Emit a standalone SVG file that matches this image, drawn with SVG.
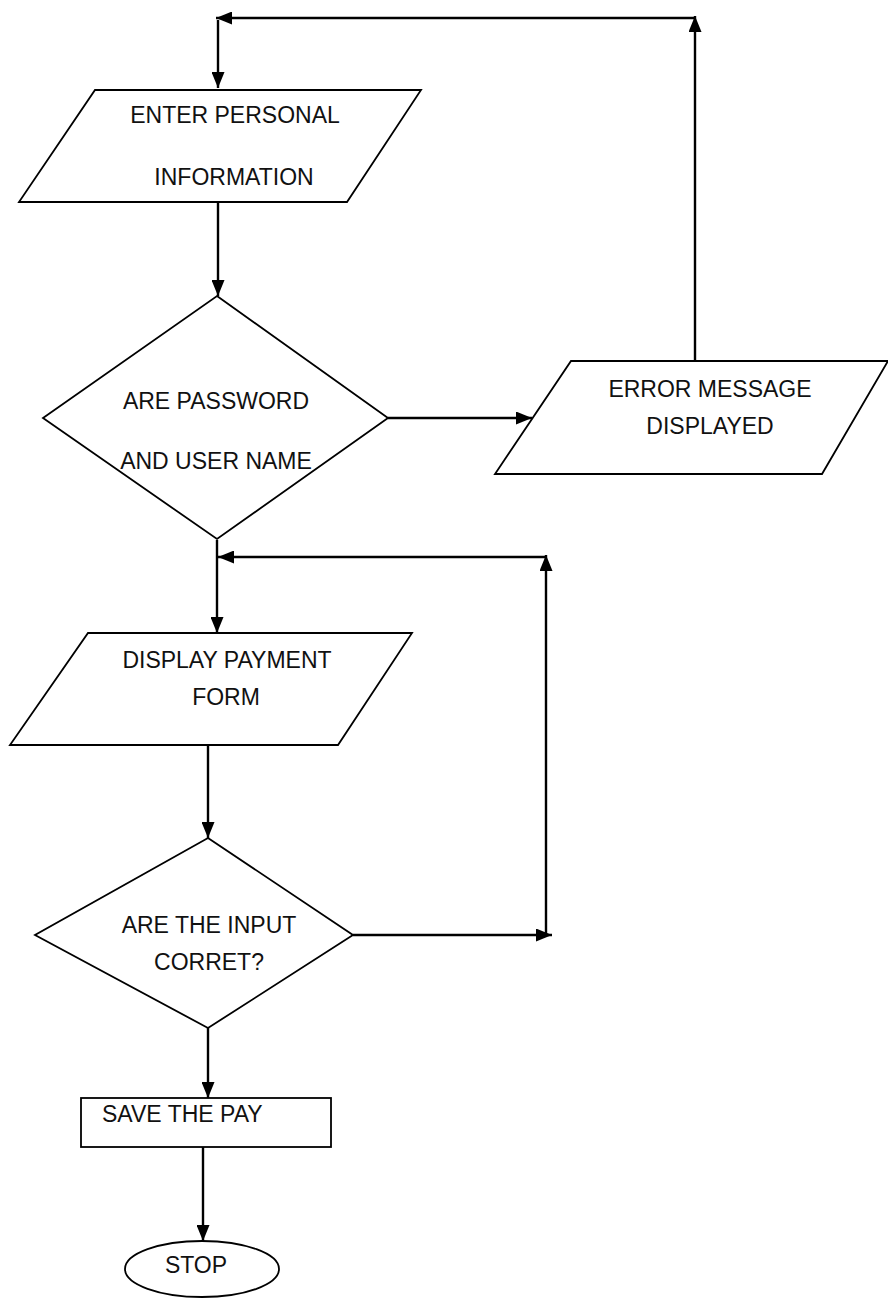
<svg xmlns="http://www.w3.org/2000/svg" width="888" height="1298" viewBox="0 0 888 1298">
<style>
.shape{fill:#fff;stroke:#000;stroke-width:1.8}
.conn{fill:none;stroke:#000;stroke-width:2.4}
.lbl{font-family:"Liberation Sans",Arial,sans-serif;font-size:23px;fill:#111}
.mid{text-anchor:middle}
</style>
<defs>
<marker id="arr" viewBox="0 0 16 13" refX="16" refY="6.5" markerWidth="16" markerHeight="13" markerUnits="userSpaceOnUse" orient="auto">
<path d="M0,0 L16,6.5 L0,13 z" fill="#000"/>
</marker>
</defs>
<rect width="888" height="1298" fill="#fff"/>
<g id="connectors">
<path class="conn" d="M695,361 V16" marker-end="url(#arr)"/>
<path class="conn" d="M695,18 H216" marker-end="url(#arr)"/>
<path class="conn" d="M218,20 V88" marker-end="url(#arr)"/>
<path class="conn" d="M218,202 V296" marker-end="url(#arr)"/>
<path class="conn" d="M388,418 H532" marker-end="url(#arr)"/>
<path class="conn" d="M217,540 V633" marker-end="url(#arr)"/>
<path class="conn" d="M353,935 H552" marker-end="url(#arr)"/>
<path class="conn" d="M546,935 V555" marker-end="url(#arr)"/>
<path class="conn" d="M546,557 H218" marker-end="url(#arr)"/>
<path class="conn" d="M208,745 V838" marker-end="url(#arr)"/>
<path class="conn" d="M208,1028 V1098" marker-end="url(#arr)"/>
<path class="conn" d="M203,1147 V1241" marker-end="url(#arr)"/>
</g>
<g id="enter-info">
<polygon class="shape" points="95,90 421,90 347,202 19,202"/>
<text class="lbl mid" x="235" y="123">ENTER PERSONAL</text>
<text class="lbl mid" x="234" y="185">INFORMATION</text>
</g>
<g id="check-login">
<polygon class="shape" points="217,296 388,418 217,539 43,418"/>
<text class="lbl mid" x="216" y="409">ARE PASSWORD</text>
<text class="lbl mid" x="216" y="469">AND USER NAME</text>
</g>
<g id="error-msg">
<polygon class="shape" points="571,361 888,361 822,474 495,474"/>
<text class="lbl mid" x="710" y="397">ERROR MESSAGE</text>
<text class="lbl mid" x="710" y="434">DISPLAYED</text>
</g>
<g id="payment-form">
<polygon class="shape" points="88,633 412,633 338,745 10,745"/>
<text class="lbl mid" x="227" y="668">DISPLAY PAYMENT</text>
<text class="lbl mid" x="226" y="705">FORM</text>
</g>
<g id="check-input">
<polygon class="shape" points="208,838 353,935 208,1028 35,935"/>
<text class="lbl mid" x="209" y="933">ARE THE INPUT</text>
<text class="lbl mid" x="209" y="970">CORRET?</text>
</g>
<g id="save-pay">
<rect class="shape" x="81" y="1098" width="250" height="49"/>
<text class="lbl" x="102" y="1122">SAVE THE PAY</text>
</g>
<g id="stop">
<ellipse class="shape" cx="202" cy="1269" rx="77" ry="28"/>
<text class="lbl mid" x="196" y="1273">STOP</text>
</g>
</svg>
